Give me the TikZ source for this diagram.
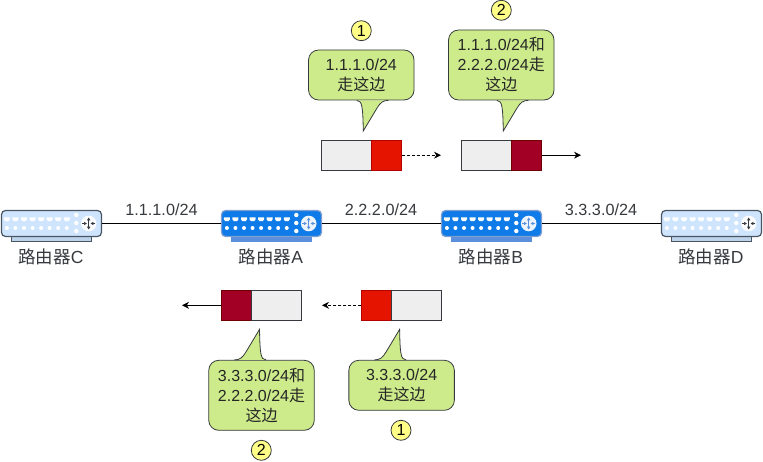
\documentclass[tikz,border=0pt]{standalone}
\usepackage{fontspec}
\setmainfont{Liberation Sans}
\newfontfamily\cjk{Noto Sans CJK SC}
\usepackage{tikz}
\usetikzlibrary{arrows.meta,positioning,calc}

\definecolor{edgegray}{HTML}{36393D}
\definecolor{bubblegreen}{HTML}{CDEB8B}
\definecolor{ringyellow}{HTML}{FFFF88}
\definecolor{slotgray}{HTML}{EEEEEE}
\definecolor{pktred}{HTML}{E51400}
\definecolor{pktredline}{HTML}{B20000}
\definecolor{pktdark}{HTML}{A20025}
\definecolor{pktdarkline}{HTML}{6F0000}
\definecolor{paleblue}{HTML}{CFE5FD}
\definecolor{palebase}{HTML}{BDD3EC}
\definecolor{paleedge}{HTML}{4A5563}
\definecolor{brightblue}{HTML}{0F7BE8}
\definecolor{brightbase}{HTML}{5B8FDC}
\definecolor{brightedge}{HTML}{7F9FD0}

% name, left x, body fill, body edge, base fill, base edge, icon colour
\newcommand{\routerpic}[7]{%
  \draw[#6,fill=#5,line width=.8pt] (#2+10.5,236) rectangle (#2+90.5,241);
  \node[router,fill=#3,draw=#4] (#1) at (#2+50.5,223.5) {};
  \foreach \i in {0,...,7}{
    \fill[white] (#2+2.9+8.55*\i,217.4) -- ++(6,0) -- ++(0,2) -- ++(-1.4,1.8) -- ++(-3.2,0) -- ++(-1.4,-1.8) -- cycle;
    \fill[white] (#2+5.9+8.55*\i,228) circle (2);
  }
  \foreach \j in {215,223,231}{\fill[white] (#2+75.3,\j) circle (2.2);}
  \fill[white,opacity=.92] (#2+87.7,223.5) circle (7.8);
  \draw[#7,line width=.8pt,{Latex[length=3pt,width=3.6pt]}-{Latex[length=3pt,width=3.6pt]}] (#2+87.7,217.3) -- (#2+87.7,229.7);
  \draw[#7,line width=.8pt,-{Latex[length=3pt,width=3.6pt]}] (#2+81,223.5) -- (#2+86,223.5);
  \draw[#7,line width=.8pt,-{Latex[length=3pt,width=3.6pt]}] (#2+94.4,223.5) -- (#2+89.4,223.5);
}

\begin{document}
\begin{tikzpicture}[x=1pt,y=-1pt,
  node distance=0pt,
  router/.style={draw,rounded corners=4pt,line width=1.2pt,minimum width=100pt,minimum height=26pt,inner sep=0pt},
  routerlabel/.style={font=\fontsize{17.5}{20}\selectfont,text=edgegray,inner sep=0pt},
  netlabel/.style={font=\fontsize{16.2}{20}\selectfont,text=edgegray,inner sep=0pt},
  bubble/.style={draw=edgegray,fill=bubblegreen,rounded corners=10pt,align=center,minimum width=105.5pt,inner sep=0pt,font=\fontsize{16}{20}\selectfont,text=black!85,line width=.8pt},
  ring/.style={circle,draw=edgegray,fill=ringyellow,minimum size=20pt,inner sep=0pt,font=\fontsize{16}{18}\selectfont,line width=.8pt},
  slot/.style={draw=edgegray,fill=slotgray,outer sep=0pt,minimum width=50pt,minimum height=30.4pt,inner sep=0pt,line width=.8pt},
  pktnew/.style={draw=pktredline,fill=pktred,outer sep=0pt,minimum width=30.4pt,minimum height=30.4pt,inner sep=0pt,line width=.8pt},
  pktold/.style={draw=pktdarkline,fill=pktdark,outer sep=0pt,minimum width=30.4pt,minimum height=30.4pt,inner sep=0pt,line width=.8pt},
  arr/.style={-{Stealth[length=7pt,width=7pt]},line width=.8pt},
  pics/bubbletail/.style={code={
    \path[draw=edgegray,fill=bubblegreen,line width=.8pt] (-4.5,0) .. controls (1,0) and (1.5,7) .. (2,30.5)
      -- (15.5,8) .. controls (19,2) and (22,0) .. (27,0);
  }}]
\useasboundingbox (0,0) rectangle (763,462);

% routers
\routerpic{rc}{1}{paleblue}{paleedge}{palebase}{paleedge}{edgegray}
\routerpic{ra}{221}{brightblue}{brightedge}{brightbase}{brightbase}{brightbase}
\routerpic{rb}{441}{brightblue}{brightedge}{brightbase}{brightbase}{brightbase}
\routerpic{rd}{661}{paleblue}{paleedge}{palebase}{paleedge}{edgegray}
\draw[line width=.8pt](rc)--(ra);\draw[line width=.8pt](ra)--(rb);\draw[line width=.8pt](rb)--(rd);
\node[routerlabel] (lc) at (51,256.5) {{\cjk 路由器}C};
\node[routerlabel] (la) at (271,256.5) {{\cjk 路由器}A};
\node[routerlabel] (lb) at (491,256.5) {{\cjk 路由器}B};
\node[routerlabel] (ld) at (711,256.5) {{\cjk 路由器}D};
\node[netlabel] (n1) at (161.5,209.5) {1.1.1.0/24};
\node[netlabel] (n2) at (381,209.5) {2.2.2.0/24};
\node[netlabel] (n3) at (601,209.5) {3.3.3.0/24};

% top queues
\node[slot] (q1) at (346.3,155.2) {};
\node[pktnew,right=of q1] (p1) {};
\coordinate (e1) at (441,155.2);
\draw[arr,densely dashed](p1)--(e1);
\node[slot] (q2) at (486.3,155.2) {};
\node[pktold,right=of q2] (p2) {};
\coordinate (e2) at (581,155.2);
\draw[arr](p2)--(e2);

% bottom queues
\node[pktold] (p3) at (236.5,305.3) {};
\node[slot,right=of p3] (q3) {};
\coordinate (e3) at (182,305.3);
\draw[arr](p3)--(e3);
\node[pktnew] (p4) at (376.5,305.3) {};
\node[slot,right=of p4] (q4) {};
\coordinate (e4) at (322,305.3);
\draw[arr,densely dashed](p4)--(e4);

% bubbles
\node[bubble,minimum height=50pt] (b1) at (361.3,75) {1.1.1.0/24\\{\cjk 走这边}};
\pic at (b1.south) {bubbletail};
\node[bubble,minimum height=70pt] (b2) at (501.3,65) {1.1.1.0/24{\cjk 和}\\2.2.2.0/24{\cjk 走}\\{\cjk 这边}};
\pic at (b2.south) {bubbletail};
\node[bubble,minimum height=70pt] (b3) at (261.5,395.3) {3.3.3.0/24{\cjk 和}\\2.2.2.0/24{\cjk 走}\\{\cjk 这边}};
\pic[rotate=180] at (b3.north) {bubbletail};
\node[bubble,minimum height=50pt] (b4) at (401.6,385.3) {3.3.3.0/24\\{\cjk 走这边}};
\pic[rotate=180] at (b4.north) {bubbletail};

% order marks
\node[ring] (m1) at (361.3,30.7) {1};
\node[ring] (m2) at (501.3,10.3) {2};
\node[ring] (m3) at (261.3,450.3) {2};
\node[ring] (m4) at (401,430.3) {1};
\end{tikzpicture}
\end{document}
